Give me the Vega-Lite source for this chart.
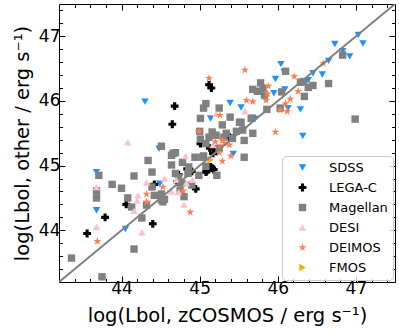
{
  "$schema": "https://vega.github.io/schema/vega-lite/v6.json",
  "width": 336,
  "height": 278,
  "autosize": "none",
  "padding": {"left": 59, "top": 4, "right": 4, "bottom": 53},
  "config": {
    "font": "DejaVu Sans",
    "view": {"stroke": null},
    "axis": {
      "grid": false,
      "domainColor": "#000000",
      "domainWidth": 1,
      "tickColor": "#000000",
      "tickWidth": 1,
      "labelColor": "#000000",
      "labelFontSize": 17,
      "labelFont": "DejaVu Sans",
      "titleFont": "DejaVu Sans",
      "titleFontSize": 19,
      "titleFontWeight": "normal",
      "titleColor": "#000000",
      "labelOverlap": false,
      "labelFlush": false
    }
  },
  "datasets": {
    "pts": [
      {"s": "SDSS", "x": 47.03, "y": 47.02},
      {"s": "SDSS", "x": 47.09, "y": 46.89},
      {"s": "SDSS", "x": 46.73, "y": 46.88},
      {"s": "SDSS", "x": 46.92, "y": 46.69},
      {"s": "SDSS", "x": 46.83, "y": 46.77},
      {"s": "SDSS", "x": 46.04, "y": 46.57},
      {"s": "SDSS", "x": 46.08, "y": 46.45},
      {"s": "SDSS", "x": 45.97, "y": 46.34},
      {"s": "SDSS", "x": 46.45, "y": 46.43},
      {"s": "SDSS", "x": 46.57, "y": 46.41},
      {"s": "SDSS", "x": 46.65, "y": 46.62},
      {"s": "SDSS", "x": 46.39, "y": 46.32},
      {"s": "SDSS", "x": 45.95, "y": 46.12},
      {"s": "SDSS", "x": 46.09, "y": 46.18},
      {"s": "SDSS", "x": 46.29, "y": 45.87},
      {"s": "SDSS", "x": 46.13, "y": 45.89},
      {"s": "SDSS", "x": 45.53, "y": 45.90},
      {"s": "SDSS", "x": 45.71, "y": 45.72},
      {"s": "SDSS", "x": 45.68, "y": 45.74},
      {"s": "SDSS", "x": 45.57, "y": 45.56},
      {"s": "SDSS", "x": 46.32, "y": 45.46},
      {"s": "SDSS", "x": 44.30, "y": 45.99},
      {"s": "SDSS", "x": 45.39, "y": 45.97},
      {"s": "SDSS", "x": 45.14, "y": 45.73},
      {"s": "SDSS", "x": 44.48, "y": 45.26},
      {"s": "SDSS", "x": 45.43, "y": 45.18},
      {"s": "SDSS", "x": 43.68, "y": 44.90},
      {"s": "SDSS", "x": 43.68, "y": 44.31},
      {"s": "SDSS", "x": 44.05, "y": 44.02},
      {"s": "SDSS", "x": 44.49, "y": 44.72},
      {"s": "SDSS", "x": 45.39, "y": 45.44},
      {"s": "LEGA-C", "x": 45.12, "y": 46.25},
      {"s": "LEGA-C", "x": 45.15, "y": 46.20},
      {"s": "LEGA-C", "x": 44.68, "y": 45.92},
      {"s": "LEGA-C", "x": 44.65, "y": 45.64},
      {"s": "LEGA-C", "x": 45.01, "y": 45.34},
      {"s": "LEGA-C", "x": 45.17, "y": 45.19},
      {"s": "LEGA-C", "x": 45.13, "y": 45.27},
      {"s": "LEGA-C", "x": 45.38, "y": 45.44},
      {"s": "LEGA-C", "x": 45.21, "y": 45.22},
      {"s": "LEGA-C", "x": 45.14, "y": 44.98},
      {"s": "LEGA-C", "x": 45.09, "y": 44.91},
      {"s": "LEGA-C", "x": 45.18, "y": 44.94},
      {"s": "LEGA-C", "x": 44.90, "y": 44.91},
      {"s": "LEGA-C", "x": 44.84, "y": 44.95},
      {"s": "LEGA-C", "x": 44.73, "y": 44.86},
      {"s": "LEGA-C", "x": 44.71, "y": 44.75},
      {"s": "LEGA-C", "x": 44.95, "y": 44.64},
      {"s": "LEGA-C", "x": 44.40, "y": 44.10},
      {"s": "LEGA-C", "x": 43.56, "y": 43.95},
      {"s": "LEGA-C", "x": 43.79, "y": 44.20},
      {"s": "LEGA-C", "x": 44.06, "y": 44.40},
      {"s": "LEGA-C", "x": 44.42, "y": 44.71},
      {"s": "LEGA-C", "x": 45.08, "y": 44.90},
      {"s": "LEGA-C", "x": 45.16, "y": 44.96},
      {"s": "LEGA-C", "x": 45.22, "y": 45.26},
      {"s": "Magellan", "x": 46.83, "y": 46.71},
      {"s": "Magellan", "x": 46.65, "y": 46.27},
      {"s": "Magellan", "x": 46.99, "y": 45.72},
      {"s": "Magellan", "x": 46.10, "y": 46.46},
      {"s": "Magellan", "x": 45.78, "y": 46.28},
      {"s": "Magellan", "x": 45.68, "y": 46.18},
      {"s": "Magellan", "x": 45.74, "y": 46.15},
      {"s": "Magellan", "x": 45.81, "y": 46.20},
      {"s": "Magellan", "x": 45.83, "y": 46.09},
      {"s": "Magellan", "x": 46.29, "y": 46.29},
      {"s": "Magellan", "x": 46.33, "y": 46.30},
      {"s": "Magellan", "x": 46.39, "y": 46.21},
      {"s": "Magellan", "x": 46.45, "y": 46.24},
      {"s": "Magellan", "x": 46.34, "y": 46.07},
      {"s": "Magellan", "x": 46.05, "y": 46.14},
      {"s": "Magellan", "x": 45.86, "y": 45.87},
      {"s": "Magellan", "x": 46.03, "y": 45.89},
      {"s": "Magellan", "x": 45.66, "y": 45.73},
      {"s": "Magellan", "x": 45.53, "y": 45.67},
      {"s": "Magellan", "x": 45.68, "y": 45.50},
      {"s": "Magellan", "x": 45.55, "y": 45.55},
      {"s": "Magellan", "x": 45.08, "y": 45.96},
      {"s": "Magellan", "x": 45.05, "y": 45.89},
      {"s": "Magellan", "x": 45.01, "y": 45.73},
      {"s": "Magellan", "x": 45.25, "y": 45.89},
      {"s": "Magellan", "x": 45.39, "y": 45.75},
      {"s": "Magellan", "x": 45.29, "y": 45.63},
      {"s": "Magellan", "x": 45.51, "y": 45.67},
      {"s": "Magellan", "x": 45.16, "y": 45.52},
      {"s": "Magellan", "x": 45.21, "y": 45.47},
      {"s": "Magellan", "x": 45.12, "y": 45.44},
      {"s": "Magellan", "x": 45.31, "y": 45.44},
      {"s": "Magellan", "x": 45.47, "y": 45.53},
      {"s": "Magellan", "x": 45.57, "y": 45.39},
      {"s": "Magellan", "x": 45.42, "y": 45.42},
      {"s": "Magellan", "x": 45.08, "y": 45.34},
      {"s": "Magellan", "x": 45.05, "y": 45.15},
      {"s": "Magellan", "x": 45.25, "y": 45.27},
      {"s": "Magellan", "x": 45.57, "y": 45.13},
      {"s": "Magellan", "x": 45.00, "y": 45.53},
      {"s": "Magellan", "x": 45.01, "y": 45.41},
      {"s": "Magellan", "x": 45.34, "y": 45.50},
      {"s": "Magellan", "x": 44.51, "y": 45.30},
      {"s": "Magellan", "x": 44.64, "y": 45.16},
      {"s": "Magellan", "x": 44.69, "y": 45.20},
      {"s": "Magellan", "x": 44.34, "y": 45.08},
      {"s": "Magellan", "x": 44.78, "y": 45.05},
      {"s": "Magellan", "x": 45.08, "y": 44.99},
      {"s": "Magellan", "x": 44.66, "y": 45.19},
      {"s": "Magellan", "x": 44.94, "y": 45.13},
      {"s": "Magellan", "x": 45.03, "y": 45.13},
      {"s": "Magellan", "x": 44.99, "y": 44.85},
      {"s": "Magellan", "x": 45.22, "y": 44.85},
      {"s": "Magellan", "x": 44.85, "y": 44.88},
      {"s": "Magellan", "x": 43.71, "y": 44.85},
      {"s": "Magellan", "x": 43.68, "y": 44.61},
      {"s": "Magellan", "x": 43.68, "y": 44.50},
      {"s": "Magellan", "x": 43.88, "y": 44.71},
      {"s": "Magellan", "x": 44.00, "y": 44.65},
      {"s": "Magellan", "x": 44.16, "y": 44.84},
      {"s": "Magellan", "x": 44.08, "y": 44.50},
      {"s": "Magellan", "x": 44.26, "y": 44.19},
      {"s": "Magellan", "x": 44.16, "y": 43.71},
      {"s": "Magellan", "x": 43.36, "y": 43.57},
      {"s": "Magellan", "x": 43.75, "y": 43.28},
      {"s": "Magellan", "x": 44.32, "y": 44.39},
      {"s": "Magellan", "x": 44.39, "y": 44.90},
      {"s": "Magellan", "x": 44.39, "y": 44.67},
      {"s": "Magellan", "x": 44.51, "y": 44.56},
      {"s": "Magellan", "x": 44.51, "y": 44.47},
      {"s": "Magellan", "x": 44.55, "y": 44.48},
      {"s": "Magellan", "x": 44.64, "y": 45.01},
      {"s": "Magellan", "x": 44.69, "y": 44.88},
      {"s": "Magellan", "x": 44.73, "y": 44.82},
      {"s": "Magellan", "x": 44.77, "y": 44.73},
      {"s": "Magellan", "x": 44.75, "y": 44.62},
      {"s": "Magellan", "x": 44.80, "y": 44.52},
      {"s": "Magellan", "x": 44.13, "y": 44.36},
      {"s": "Magellan", "x": 44.53, "y": 44.44},
      {"s": "Magellan", "x": 44.42, "y": 44.54},
      {"s": "Magellan", "x": 44.90, "y": 44.70},
      {"s": "Magellan", "x": 44.86, "y": 44.98},
      {"s": "DESI", "x": 44.08, "y": 45.36},
      {"s": "DESI", "x": 44.82, "y": 45.15},
      {"s": "DESI", "x": 45.21, "y": 45.80},
      {"s": "DESI", "x": 45.58, "y": 45.84},
      {"s": "DESI", "x": 43.68, "y": 44.67},
      {"s": "DESI", "x": 43.68, "y": 44.05},
      {"s": "DESI", "x": 44.21, "y": 44.54},
      {"s": "DESI", "x": 44.20, "y": 44.46},
      {"s": "DESI", "x": 44.16, "y": 44.30},
      {"s": "DESI", "x": 44.26, "y": 43.97},
      {"s": "DESI", "x": 44.32, "y": 44.74},
      {"s": "DESI", "x": 44.64, "y": 44.60},
      {"s": "DESI", "x": 44.83, "y": 44.73},
      {"s": "DESI", "x": 44.91, "y": 44.78},
      {"s": "DESI", "x": 44.73, "y": 44.59},
      {"s": "DESI", "x": 44.70, "y": 44.78},
      {"s": "DESI", "x": 45.17, "y": 45.32},
      {"s": "DESI", "x": 44.55, "y": 44.80},
      {"s": "DESI", "x": 44.80, "y": 44.40},
      {"s": "DEIMOS", "x": 45.12, "y": 46.35},
      {"s": "DEIMOS", "x": 45.58, "y": 46.48},
      {"s": "DEIMOS", "x": 45.88, "y": 46.23},
      {"s": "DEIMOS", "x": 46.21, "y": 46.38},
      {"s": "DEIMOS", "x": 46.58, "y": 46.58},
      {"s": "DEIMOS", "x": 45.60, "y": 46.01},
      {"s": "DEIMOS", "x": 45.68, "y": 45.99},
      {"s": "DEIMOS", "x": 45.85, "y": 46.01},
      {"s": "DEIMOS", "x": 45.87, "y": 46.11},
      {"s": "DEIMOS", "x": 46.26, "y": 46.15},
      {"s": "DEIMOS", "x": 46.16, "y": 46.03},
      {"s": "DEIMOS", "x": 46.10, "y": 45.96},
      {"s": "DEIMOS", "x": 46.03, "y": 45.86},
      {"s": "DEIMOS", "x": 46.12, "y": 45.84},
      {"s": "DEIMOS", "x": 45.97, "y": 45.52},
      {"s": "DEIMOS", "x": 45.26, "y": 45.78},
      {"s": "DEIMOS", "x": 44.99, "y": 45.53},
      {"s": "DEIMOS", "x": 45.29, "y": 45.39},
      {"s": "DEIMOS", "x": 45.20, "y": 45.37},
      {"s": "DEIMOS", "x": 45.32, "y": 45.35},
      {"s": "DEIMOS", "x": 45.27, "y": 45.28},
      {"s": "DEIMOS", "x": 45.38, "y": 45.32},
      {"s": "DEIMOS", "x": 45.40, "y": 45.15},
      {"s": "DEIMOS", "x": 45.29, "y": 45.07},
      {"s": "DEIMOS", "x": 43.69, "y": 43.83},
      {"s": "DEIMOS", "x": 44.32, "y": 44.56},
      {"s": "DEIMOS", "x": 44.32, "y": 44.44},
      {"s": "DEIMOS", "x": 44.53, "y": 44.67},
      {"s": "DEIMOS", "x": 44.79, "y": 44.61},
      {"s": "DEIMOS", "x": 44.88, "y": 44.28},
      {"s": "DEIMOS", "x": 45.25, "y": 45.20},
      {"s": "FMOS", "x": 45.14, "y": 45.09}
    ],
    "diag": [{"v": 43.2}, {"v": 47.5}]
  },
  "layer": [
    {
      "data": {"name": "pts"},
      "mark": {"type": "point", "filled": true, "opacity": 1, "strokeWidth": 0, "size": 55},
      "encoding": {
        "x": {
          "field": "x", "type": "quantitative",
          "scale": {"domain": [43.2, 47.5], "nice": false, "zero": false},
          "axis": {
            "orient": "bottom",
            "values": [43.4, 43.6, 43.8, 44, 44.2, 44.4, 44.6, 44.8, 45, 45.2, 45.4, 45.6, 45.8, 46, 46.2, 46.4, 46.6, 46.8, 47, 47.2, 47.4],
            "tickSize": {"condition": {"test": "abs(datum.value - round(datum.value)) < 0.001", "value": -6}, "value": -3.5},
            "labelExpr": "abs(datum.value - round(datum.value)) < 0.001 ? format(datum.value, '.0f') : ''",
            "labelPadding": 4,
            "title": "log(Lbol, zCOSMOS / erg s⁻¹)",
            "titleFontSize": 19.5,
            "titlePadding": 8
          }
        },
        "y": {
          "field": "y", "type": "quantitative",
          "scale": {"domain": [43.2, 47.5], "nice": false, "zero": false},
          "axis": {
            "orient": "left",
            "values": [43.4, 43.6, 43.8, 44, 44.2, 44.4, 44.6, 44.8, 45, 45.2, 45.4, 45.6, 45.8, 46, 46.2, 46.4, 46.6, 46.8, 47, 47.2, 47.4],
            "tickSize": {"condition": {"test": "abs(datum.value - round(datum.value)) < 0.001", "value": -6}, "value": -3.5},
            "labelExpr": "abs(datum.value - round(datum.value)) < 0.001 ? format(datum.value, '.0f') : ''",
            "labelPadding": 5,
            "title": "log(Lbol, other / erg s⁻¹)",
            "titleFontSize": 19.5,
            "titlePadding": 6
          }
        },
        "color": {
          "field": "s", "type": "nominal",
          "scale": {
            "domain": ["SDSS", "LEGA-C", "Magellan", "DESI", "DEIMOS", "FMOS"],
            "range": ["#1E90FF", "#000000", "#808080", "#FFC0CB", "#FF7F50", "#FFA500"]
          },
          "legend": {
            "title": null,
            "orient": "none",
            "legendX": 223,
            "legendY": 152,
            "labelFontSize": 13,
            "labelFont": "DejaVu Sans",
            "labelColor": "#000000",
            "padding": 5,
            "rowPadding": 6,
            "symbolOffset": 9,
            "labelOffset": 20,
            "symbolSize": 55,
            "strokeColor": "#cccccc",
            "fillColor": "rgba(255,255,255,0.8)",
            "cornerRadius": 4
          }
        },
        "shape": {
          "field": "s", "type": "nominal",
          "scale": {
            "domain": ["SDSS", "LEGA-C", "Magellan", "DESI", "DEIMOS", "FMOS"],
            "range": ["triangle-down", "M-0.42,-1.05H0.42V-0.42H1.05V0.42H0.42V1.05H-0.42V0.42H-1.05V-0.42H-0.42Z", "square", "triangle-up", "M0,-1.15L0.259,-0.355L1.094,-0.355L0.417,0.136L0.676,0.93L0,0.439L-0.676,0.93L-0.417,0.136L-1.094,-0.355L-0.259,-0.355Z", "triangle-right"]
          }
        }
      }
    },
    {
      "data": {"name": "diag"},
      "mark": {"type": "line", "color": "#808080", "strokeWidth": 2, "clip": true},
      "encoding": {
        "x": {
          "field": "v", "type": "quantitative",
          "scale": {"domain": [43.2, 47.5], "nice": false, "zero": false},
          "axis": {
            "orient": "top",
            "values": [43.4, 43.6, 43.8, 44, 44.2, 44.4, 44.6, 44.8, 45, 45.2, 45.4, 45.6, 45.8, 46, 46.2, 46.4, 46.6, 46.8, 47, 47.2, 47.4],
            "tickSize": {"condition": {"test": "abs(datum.value - round(datum.value)) < 0.001", "value": -6}, "value": -3.5},
            "labels": false,
            "title": null
          }
        },
        "y": {
          "field": "v", "type": "quantitative",
          "scale": {"domain": [43.2, 47.5], "nice": false, "zero": false},
          "axis": {
            "orient": "right",
            "values": [43.4, 43.6, 43.8, 44, 44.2, 44.4, 44.6, 44.8, 45, 45.2, 45.4, 45.6, 45.8, 46, 46.2, 46.4, 46.6, 46.8, 47, 47.2, 47.4],
            "tickSize": {"condition": {"test": "abs(datum.value - round(datum.value)) < 0.001", "value": -6}, "value": -3.5},
            "labels": false,
            "title": null
          }
        }
      }
    }
  ],
  "resolve": {"axis": {"x": "independent", "y": "independent"}}
}
